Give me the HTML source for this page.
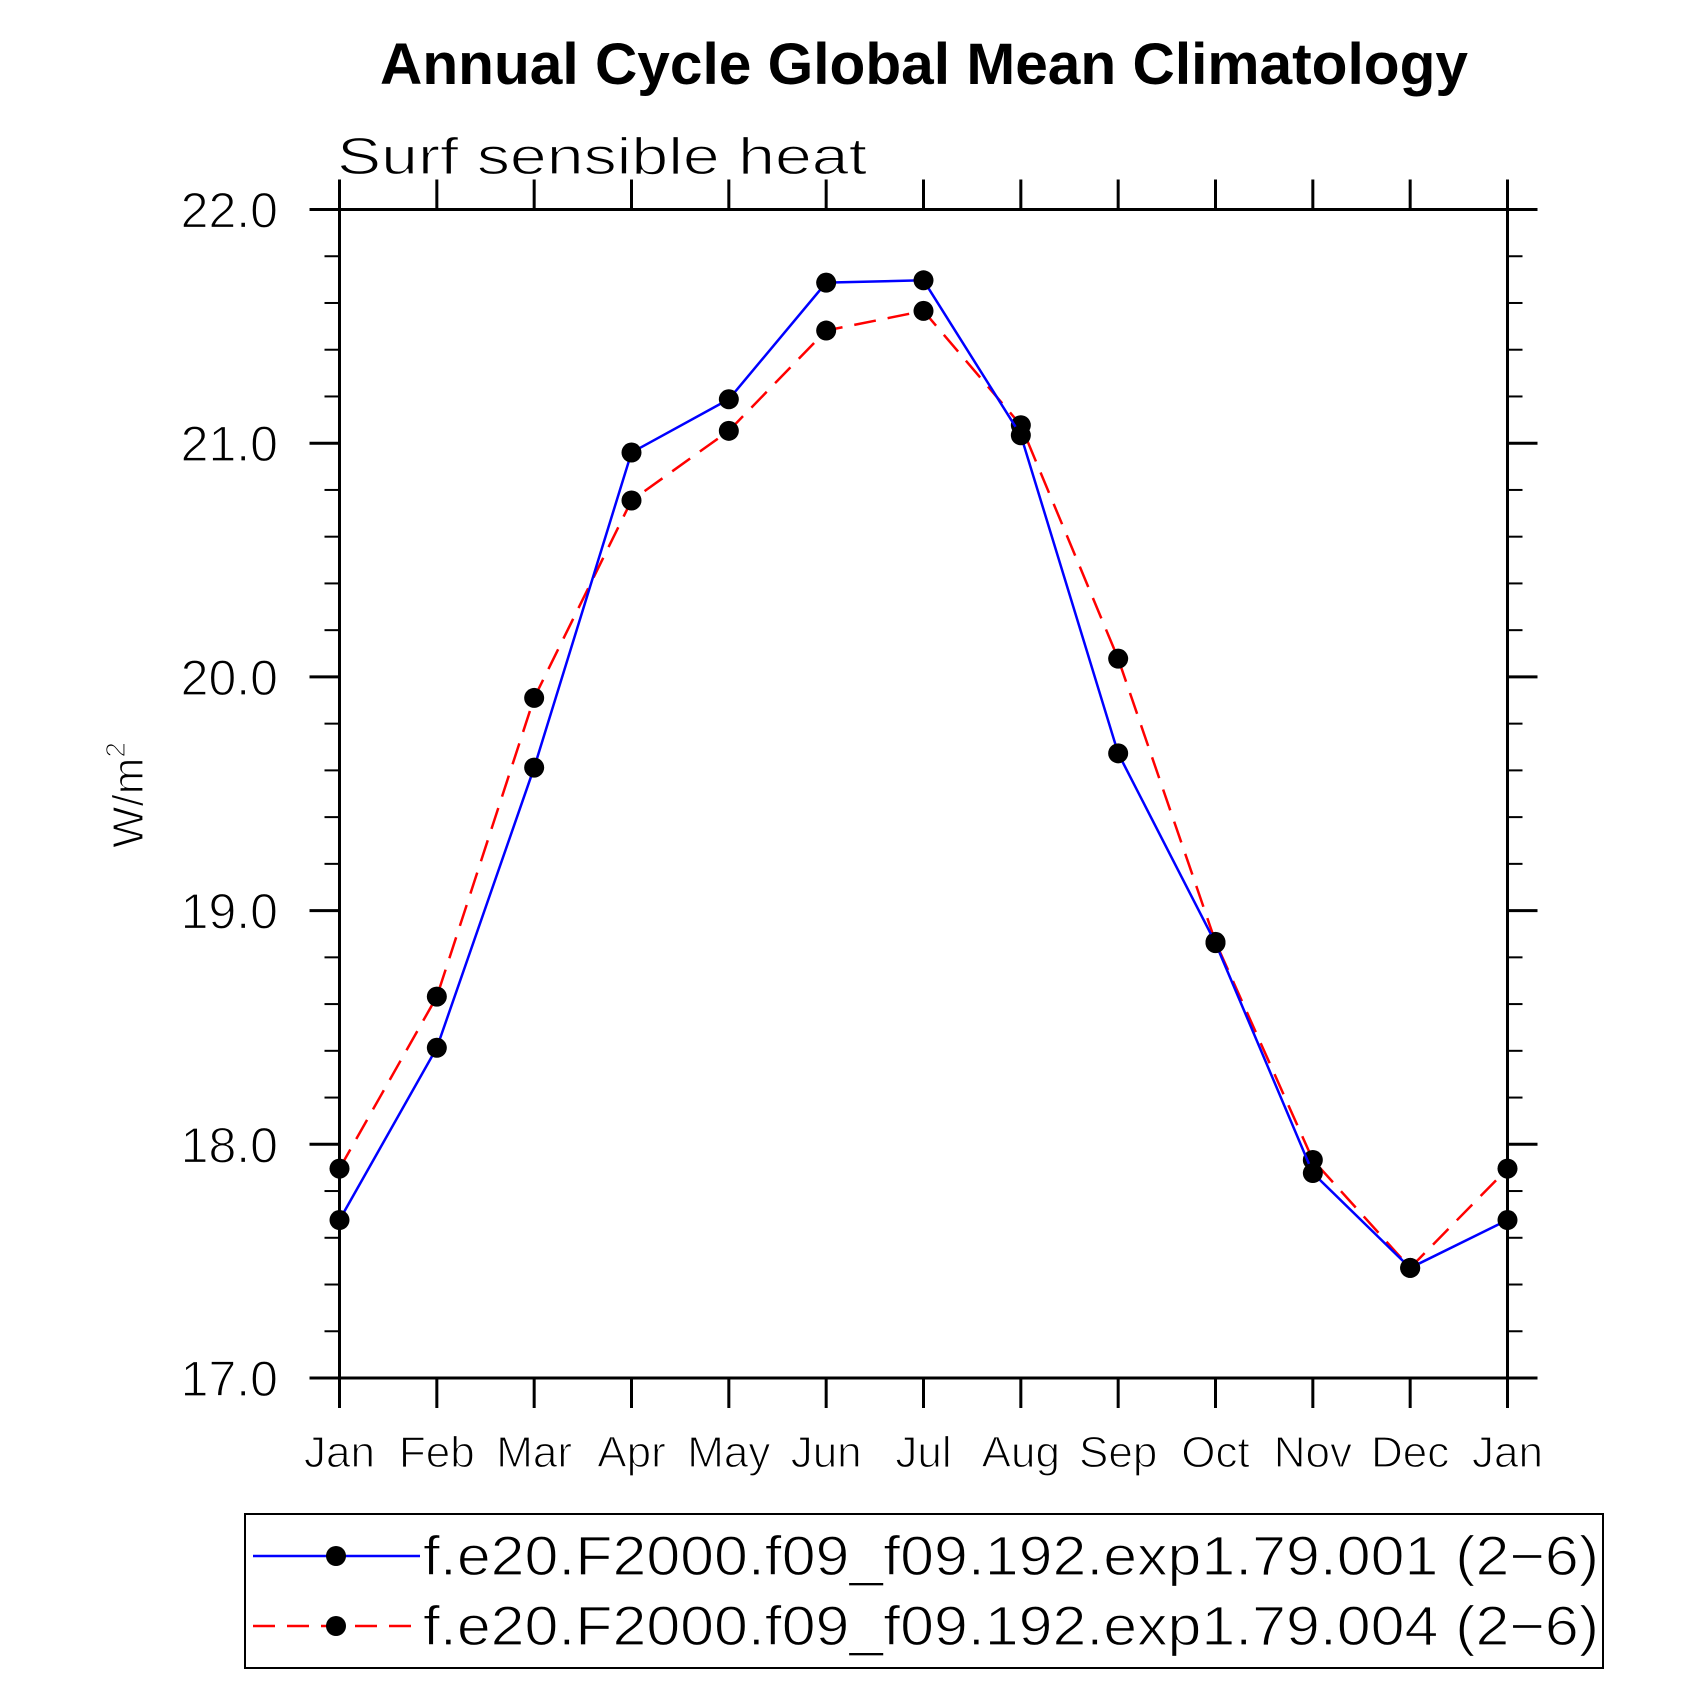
<!DOCTYPE html>
<html><head><meta charset="utf-8"><style>
html,body{margin:0;padding:0;background:#fff}
svg{display:block}
text{font-family:"Liberation Sans",sans-serif}
.thin{stroke:#fff;stroke-width:1.2;paint-order:normal}
</style></head><body>
<svg id="chart" width="1708" height="1708" viewBox="0 0 1708 1708" xmlns="http://www.w3.org/2000/svg">
<text x="924" y="84" text-anchor="middle" font-size="58" font-weight="bold" textLength="1088" lengthAdjust="spacingAndGlyphs">Annual Cycle Global Mean Climatology</text>
<text class="thin" x="337" y="174" font-size="52" textLength="530" lengthAdjust="spacingAndGlyphs">Surf sensible heat</text>
<text class="thin" transform="translate(143,795) rotate(-90)" text-anchor="middle" font-size="44">W/m<tspan font-size="28" dy="-18">2</tspan></text>
<g id="axes"></g>
<g id="series"></g>
<g>
<rect x="245" y="1514" width="1358" height="154" fill="none" stroke="#000" stroke-width="2"/>
<g>
<line x1="253" y1="1556" x2="420" y2="1556" stroke="#0000ff" stroke-width="2.5"/>
<circle cx="336" cy="1556" r="10"/>
<text class="thin" x="423" y="1575" font-size="56" textLength="1176" lengthAdjust="spacingAndGlyphs">f.e20.F2000.f09_f09.192.exp1.79.001 (2−6)</text>
</g>
<g>
<line x1="253" y1="1626" x2="420" y2="1626" stroke="#ff0000" stroke-width="2.5" stroke-dasharray="22,12"/>
<circle cx="336" cy="1626" r="10"/>
<text class="thin" x="423" y="1645" font-size="56" textLength="1176" lengthAdjust="spacingAndGlyphs">f.e20.F2000.f09_f09.192.exp1.79.004 (2−6)</text>
</g>
</g>
</svg>
<script>
const months = ["Jan","Feb","Mar","Apr","May","Jun","Jul","Aug","Sep","Oct","Nov","Dec","Jan"];
const series001 = [17.676,18.413,19.612,20.96,21.188,21.687,21.697,21.034,19.673,18.861,17.877,17.471,17.676];
const series004 = [17.896,18.632,19.91,20.755,21.053,21.482,21.566,21.077,20.078,18.866,17.933,17.471,17.896];
const yTicks = ["17.0","18.0","19.0","20.0","21.0","22.0"];
const yMin = 17, yMax = 22;

const NS = "http://www.w3.org/2000/svg";
const L = 339.5, R = 1507.5, T = 209.5, B = 1378;
function xs(i){ return L + (R - L) * i / (months.length - 1); }
function ys(v){ return B - (B - T) * (v - yMin) / (yMax - yMin); }
function mk(tag, attrs, parent){
  const e = document.createElementNS(NS, tag);
  for (const k in attrs) e.setAttribute(k, attrs[k]);
  parent.appendChild(e);
  return e;
}
const axes = document.getElementById('axes');
const frame = mk('rect', {x:L, y:T, width:R-L, height:B-T, fill:'none', stroke:'#000', 'stroke-width':3}, axes);


months.forEach((m, i) => {
  const x = xs(i);
  const t1 = mk('line', {x1:x, y1:B, x2:x, y2:B+30, stroke:'#000', 'stroke-width':3}, axes);
  
  
  const t2 = mk('line', {x1:x, y1:T, x2:x, y2:T-30, stroke:'#000', 'stroke-width':3}, axes);
  
  
  const lb = mk('text', {x:x, y:1467, 'text-anchor':'middle', 'font-size':44, 'class':'thin'}, axes);
  lb.textContent = m;
  
  
});
yTicks.forEach(s => {
  const y = ys(parseFloat(s));
  const a = mk('line', {x1:L-30, y1:y, x2:L, y2:y, stroke:'#000', 'stroke-width':3}, axes);
  
  
  const b = mk('line', {x1:R, y1:y, x2:R+30, y2:y, stroke:'#000', 'stroke-width':3}, axes);
  
  
  const lb = mk('text', {x:278, y:y+18, 'text-anchor':'end', 'font-size':50, 'class':'thin'}, axes);
  lb.textContent = s;
  
  
});
for (let v = yMin; v < yMax - 0.01; v += 0.2) {
  if (Math.abs(v - Math.round(v)) < 0.01) continue;
  const y = ys(v);
  const a = mk('line', {x1:L-15, y1:y, x2:L, y2:y, stroke:'#000', 'stroke-width':2}, axes);
  
  
  const b = mk('line', {x1:R, y1:y, x2:R+15, y2:y, stroke:'#000', 'stroke-width':2}, axes);
  
  
}
const sg = document.getElementById('series');
function drawSeries(vals, color, dash, name){
  const pts = vals.map((v, i) => xs(i) + ',' + ys(v)).join(' ');
  const pl = mk('polyline', {points:pts, fill:'none', stroke:color, 'stroke-width':2.5}, sg);
  if (dash) pl.setAttribute('stroke-dasharray', dash);
  
  
  vals.forEach((v, i) => {
    const c = mk('circle', {cx:xs(i), cy:ys(v), r:10, fill:'#000'}, sg);
    
    
  });
}
drawSeries(series004, '#ff0000', '22,12', 'series-004');
drawSeries(series001, '#0000ff', null, 'series-001');
</script>
</body></html>
